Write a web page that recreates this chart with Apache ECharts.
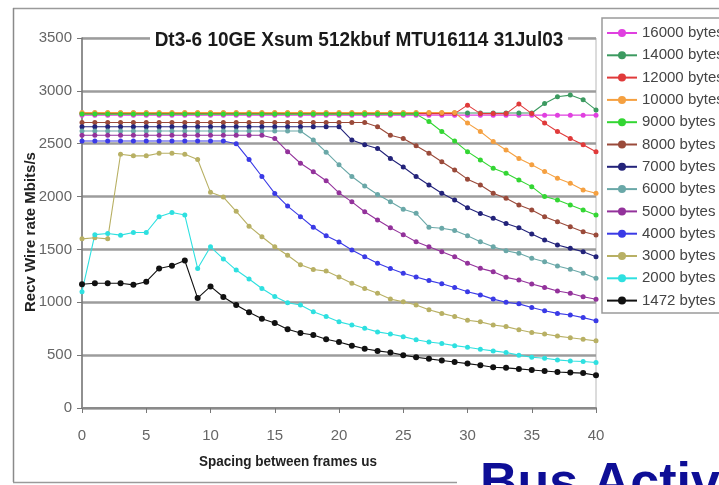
<!DOCTYPE html>
<html>
<head>
<meta charset="utf-8">
<script src="https://cdn.jsdelivr.net/npm/echarts@6/dist/echarts.min.js"></script>
<style>
  html, body { margin: 0; padding: 0; background: #fff; }
  #chart { width: 719px; height: 485px; }
</style>
</head>
<body>
<div id="chart"></div>
<script>
// Receive wire rate (Mbit/s) against spacing between frames (us), one series per frame size.
const seriesNames = ['16000 bytes', '14000 bytes', '12000 bytes', '10000 bytes', '9000 bytes',
  '8000 bytes', '7000 bytes', '6000 bytes', '5000 bytes', '4000 bytes', '3000 bytes',
  '2000 bytes', '1472 bytes'];
const seriesColors = ['#e040e0', '#3c9a60', '#e03a3a', '#f5a040', '#33d633', '#9a4a3a',
  '#23237a', '#6aa8a8', '#93329b', '#3a3ae6', '#b8b064', '#2ee0e0', '#111111'];

const yTicks = [0, 500, 1000, 1500, 2000, 2500, 3000, 3500];
const xTicks = [0, 5, 10, 15, 20, 25, 30, 35, 40];

const rate16000 = [2770,2770,2770,2770,2770,2770,2770,2770,2770,2770,2770,2770,2770,2770,2770,2770,2770,2770,2770,2770,2770,2770,2770,2770,2770,2770,2770,2770,2770,2770,2770,2770,2770,2770,2770,2770,2770,2770,2770,2770,2770];
const rate14000 = [2790,2790,2790,2790,2790,2790,2790,2790,2790,2790,2790,2790,2790,2790,2790,2790,2790,2790,2790,2790,2790,2790,2790,2790,2790,2790,2790,2790,2790,2790,2790,2790,2790,2790,2790,2790,2880,2945,2960,2915,2820];
const rate12000 = [2785,2785,2785,2785,2785,2785,2785,2785,2785,2785,2785,2785,2785,2785,2785,2785,2785,2785,2785,2785,2785,2785,2785,2785,2785,2785,2785,2785,2785,2785,2865,2785,2785,2785,2875,2785,2695,2615,2550,2490,2425];
const rate10000 = [2795,2795,2795,2795,2795,2795,2795,2795,2795,2795,2795,2795,2795,2795,2795,2795,2795,2795,2795,2795,2795,2795,2795,2795,2795,2795,2795,2795,2795,2795,2695,2615,2520,2440,2360,2300,2236,2173,2126,2062,2031];
const rate9000 = [2780,2780,2780,2780,2780,2780,2780,2780,2780,2780,2780,2780,2780,2780,2780,2780,2780,2780,2780,2780,2780,2780,2780,2780,2780,2780,2780,2710,2615,2525,2425,2346,2267,2220,2157,2094,2000,1968,1920,1873,1826];
const rate8000 = [2700,2700,2700,2700,2700,2700,2700,2700,2700,2700,2700,2700,2700,2700,2700,2700,2700,2700,2700,2700,2700,2700,2700,2660,2580,2550,2480,2410,2330,2251,2165,2110,2031,1984,1920,1873,1810,1762,1715,1668,1637];
const rate7000 = [2660,2660,2660,2660,2660,2660,2660,2660,2660,2660,2660,2660,2660,2660,2660,2660,2660,2660,2660,2660,2660,2535,2490,2455,2360,2280,2190,2110,2031,1968,1895,1840,1795,1745,1705,1645,1590,1542,1510,1479,1431];
const rate6000 = [2620,2620,2620,2620,2620,2620,2620,2620,2620,2620,2620,2620,2620,2620,2620,2620,2620,2620,2535,2420,2300,2190,2100,2020,1951,1880,1842,1710,1700,1680,1630,1573,1526,1488,1463,1416,1384,1343,1312,1274,1227];
const rate5000 = [2580,2580,2580,2580,2580,2580,2580,2580,2580,2580,2580,2580,2580,2580,2580,2550,2425,2315,2235,2150,2035,1950,1857,1778,1705,1640,1573,1526,1479,1431,1369,1321,1290,1236,1211,1173,1141,1107,1085,1053,1028];
const rate4000 = [2525,2525,2525,2525,2525,2525,2525,2525,2525,2525,2525,2525,2500,2350,2190,2030,1910,1810,1710,1630,1570,1495,1430,1370,1320,1275,1240,1205,1175,1140,1100,1070,1030,1000,985,950,920,895,880,855,825];
const rate3000 = [1600,1610,1600,2400,2385,2385,2410,2410,2400,2350,2040,1995,1860,1720,1620,1525,1445,1355,1310,1295,1240,1180,1130,1085,1030,1005,975,930,895,865,830,815,785,770,740,715,700,680,665,650,635];
const rate2000 = [1100,1640,1650,1635,1660,1660,1810,1850,1825,1320,1525,1410,1305,1220,1130,1055,995,975,910,865,815,785,755,720,700,675,645,625,610,590,575,555,540,525,500,480,470,455,445,440,430];
const rate1472 = [1170,1180,1180,1180,1165,1195,1320,1345,1395,1040,1150,1050,975,905,845,805,745,710,690,650,625,590,560,540,525,500,480,465,450,435,420,405,385,380,370,360,350,340,335,330,310];

const rates = [rate16000, rate14000, rate12000, rate10000, rate9000, rate8000, rate7000,
  rate6000, rate5000, rate4000, rate3000, rate2000, rate1472];

const sans = '"Liberation Sans", Arial, sans-serif';

const series = seriesNames.map((name, k) => ({
  name: name,
  type: 'line',
  data: rates[k].map((v, i) => [i, v]),
  color: seriesColors[k],
  symbol: 'circle',
  symbolSize: k === 12 ? 6 : 5,
  lineStyle: { width: 1.1 },
  animation: false
}));

const chart = echarts.init(document.getElementById('chart'), null, { renderer: 'canvas' });
chart.setOption({
  backgroundColor: '#ffffff',
  animation: false,
  legend: {
    orient: 'vertical',
    left: 606,
    top: 24,
    padding: 0,
    itemWidth: 30,
    itemHeight: 10,
    itemGap: 4.3,
    data: seriesNames,
    textStyle: { fontFamily: sans, fontSize: 15, color: '#444', lineHeight: 18 }
  },
  grid: {
    left: 82, right: 123, top: 38, bottom: 77,
    show: true, borderColor: '#b8b8b8', borderWidth: 1
  },
  xAxis: {
    type: 'value', min: 0, max: 40, interval: 5,
    axisLine: { lineStyle: { color: '#8a8a8a', width: 2 } },
    axisTick: { show: true, length: 5, lineStyle: { color: '#777' } },
    axisLabel: { fontFamily: sans, fontSize: 15, color: '#666', margin: 20 },
    splitLine: { show: false }
  },
  yAxis: {
    type: 'value', min: 0, max: 3500, interval: 500,
    axisLine: { show: true, lineStyle: { color: '#777', width: 1.5 } },
    axisTick: { show: true, length: 5, lineStyle: { color: '#777' } },
    axisLabel: { fontFamily: sans, fontSize: 15, color: '#666', margin: 10, formatter: v => String(v) },
    splitLine: { show: true, lineStyle: { color: '#9c9c9c', width: 2.5 } }
  },
  series: series,
  graphic: [
    // frame of the embedded chart
    { type: 'line', shape: { x1: 13, y1: 8.5, x2: 719, y2: 8.5 }, style: { stroke: '#9a9a9a', lineWidth: 1.5 }, z: 1 },
    { type: 'line', shape: { x1: 13.5, y1: 8, x2: 13.5, y2: 482 }, style: { stroke: '#8a8a8a', lineWidth: 1.5 }, z: 1 },
    { type: 'line', shape: { x1: 13, y1: 482.5, x2: 457, y2: 482.5 }, style: { stroke: '#9a9a9a', lineWidth: 1.5 }, z: 1 },
    // legend box
    { type: 'rect', shape: { x: 602, y: 18, width: 130, height: 295 }, style: { fill: 'none', stroke: '#9a9a9a', lineWidth: 1.5 }, z: 1 },
    // chart title on a white plate over the top gridline
    { type: 'rect', shape: { x: 150, y: 27, width: 418, height: 24 }, style: { fill: '#ffffff' }, z: 20 },
    { type: 'text', x: 359, y: 40, scaleX: 0.95, style: { text: 'Dt3-6 10GE Xsum 512kbuf MTU16114 31Jul03', font: 'bold 20px ' + sans, fill: '#1a1a1a', textAlign: 'center', textVerticalAlign: 'middle' }, z: 21 },
    // axis titles
    { type: 'text', x: 31, y: 232, rotation: Math.PI / 2, style: { text: 'Recv Wire rate Mbits/s', font: 'bold 15px ' + sans, fill: '#222', textAlign: 'center', textVerticalAlign: 'middle' }, z: 5 },
    { type: 'text', x: 288, y: 462, scaleX: 0.9, style: { text: 'Spacing between frames us', font: 'bold 15px ' + sans, fill: '#222', textAlign: 'center', textVerticalAlign: 'middle' }, z: 5 },
    // slide text around the chart
    { type: 'text', x: 480, y: 511, style: { text: 'Bus Activ', font: 'bold 52px ' + sans, fill: '#0e0e96', textAlign: 'left', textVerticalAlign: 'bottom' }, z: 10 },
    { type: 'text', x: 640, y: 1, style: { text: 'g', font: 'bold 52px ' + sans, fill: '#0e0e96', textAlign: 'left', textVerticalAlign: 'bottom' }, z: 10 },
    { type: 'text', x: 705, y: 1, style: { text: 'p', font: 'bold 52px ' + sans, fill: '#0e0e96', textAlign: 'left', textVerticalAlign: 'bottom' }, z: 10 }
  ]
});
</script>
</body>
</html>
